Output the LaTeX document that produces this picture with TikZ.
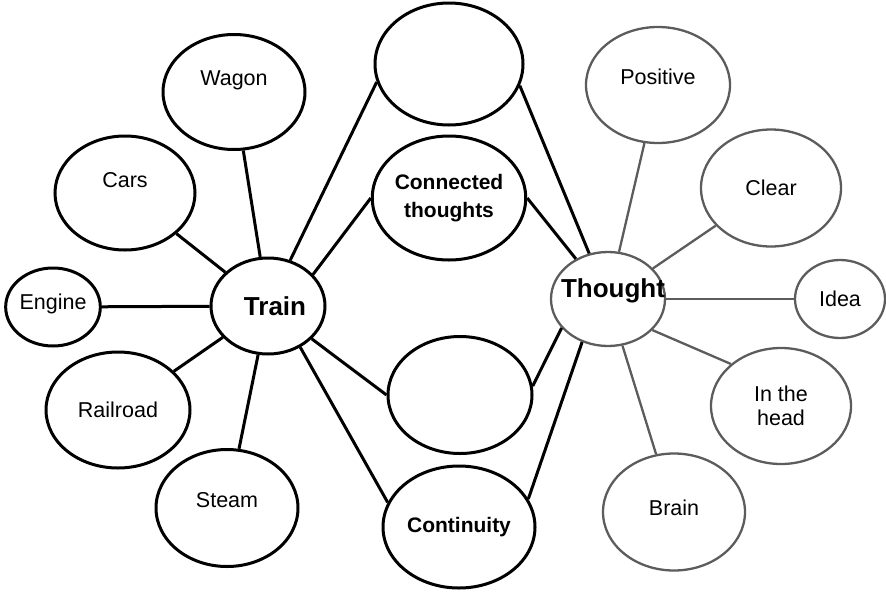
\documentclass[tikz,border=0pt]{standalone}
\usepackage{fontspec}
\setsansfont{Liberation Sans}
\usetikzlibrary{shapes.geometric}

\definecolor{pale}{gray}{0.36}

\tikzstyle{bubble}=[ellipse,draw,line width=3pt,inner sep=0pt,align=center]
\tikzstyle{far}=[bubble,draw=pale,line width=2.3pt]
\tikzstyle{hub}=[font=\sffamily\bfseries\fontsize{26}{28}\selectfont]
\tikzstyle{key}=[font=\sffamily\bfseries\fontsize{21}{28}\selectfont]
\tikzstyle{spoke}=[line width=3pt]
\tikzstyle{pale spoke}=[line width=2.3pt,draw=pale]

\begin{document}
\begin{tikzpicture}[x=1pt,y=-1pt,font=\sffamily\fontsize{21.5}{24}\selectfont]
\useasboundingbox (0,0) rectangle (886,592);

% train side
\node (train) [bubble,hub,minimum width=114pt,minimum height=96pt] at (268,306) {\hspace{14pt}Train};
\node (engine) [bubble,minimum width=94pt,minimum height=78pt] at (53,307) {\raisebox{10pt}{Engine}};
\node (cars) [bubble,minimum width=140pt,minimum height=114pt,label={[yshift=13pt]center:Cars}] at (125,193) {};
\node (wagon) [bubble,minimum width=142pt,minimum height=115pt,label={[yshift=12pt]center:Wagon}] at (234,92) {};
\node (railroad) [bubble,minimum width=144pt,minimum height=116pt] at (118,410) {Railroad};
\node (steam) [bubble,minimum width=142pt,minimum height=117pt,label={[yshift=8pt]center:Steam}] at (227,508) {};

% middle column
\node (void-top) [bubble,minimum width=148pt,minimum height=122pt] at (449,64) {};
\node (linked) [bubble,key,minimum width=152pt,minimum height=124pt] at (449,198) {Connected\\thoughts};
\node (void-mid) [bubble,minimum width=144pt,minimum height=117pt] at (460,395) {};
\node (cont) [bubble,key,minimum width=152pt,minimum height=122pt] at (459,527) {Continuity};

% thought side
\node (thought) [far,hub,minimum width=114pt,minimum height=94pt,label={[hub,xshift=5pt,yshift=8pt]center:Thought}] at (608,299) {};
\node (positive) [far,minimum width=144pt,minimum height=116pt,label={[yshift=8pt]center:Positive}] at (658,85) {};
\node (clear) [far,minimum width=140pt,minimum height=117pt] at (771,188) {Clear};
\node (idea) [far,minimum width=90pt,minimum height=78pt] at (840,299) {Idea};
\node (head) [far,minimum width=140pt,minimum height=116pt] at (781,406) {In the\\head};
\node (brain) [far,minimum width=142pt,minimum height=117pt,label={[yshift=4pt]center:Brain}] at (674,512) {};

\draw [spoke] (train) -- (engine) ;
\draw [spoke] (train) -- (cars) ;
\draw [spoke] (train) -- (wagon) ;
\draw [spoke] (train) -- (railroad) ;
\draw [spoke] (train) -- (steam) ;

\draw [spoke] (train) -- (void-top.194) ;
\draw [spoke] (train.35) -- (linked.west) ;
\draw [spoke] (train) -- (void-mid.west) ;
\draw [spoke] (train.308) -- (cont.161) ;

\draw [spoke] (thought) -- (void-top.343) ;
\draw [spoke] (thought) -- (linked.east) ;
\draw [spoke] (thought.212) -- (void-mid.7) ;
\draw [spoke] (thought.239) -- (cont.22) ;

\draw [pale spoke] (thought) -- (positive) ;
\draw [pale spoke] (thought) -- (clear) ;
\draw [pale spoke] (thought) -- (idea) ;
\draw [pale spoke] (thought.325) -- (head.140) ;
\draw [pale spoke] (thought) -- (brain) ;

\end{tikzpicture}
\end{document}
